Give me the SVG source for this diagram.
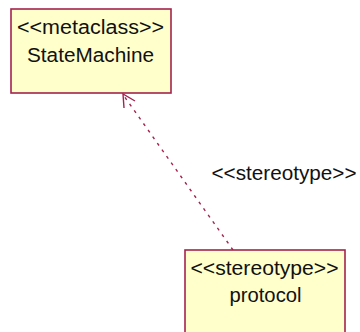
<svg xmlns="http://www.w3.org/2000/svg" width="360" height="332" viewBox="0 0 360 332">
<style>
.box{fill:#FFFFCC;stroke:#A3234E;stroke-width:1.6}
.t{font-family:"Liberation Sans",Arial,sans-serif;font-size:20px;fill:#111;text-anchor:middle}
.edge{fill:none;stroke:#A3234E;stroke-width:1.4}
</style>
<rect width="360" height="332" fill="#ffffff"/>
<g id="connectors">
<line class="edge" x1="233" y1="250" x2="124" y2="96" stroke-dasharray="3,5"/>
<polyline class="edge" points="124,108 123,94 135,101"/>
<text class="t" x="284" y="180" textLength="145" lengthAdjust="spacingAndGlyphs">&lt;&lt;stereotype&gt;&gt;</text>
</g>
<g id="StateMachine">
<rect class="box" x="11" y="9" width="160" height="84"/>
<text class="t" x="90.5" y="34" textLength="147" lengthAdjust="spacingAndGlyphs">&lt;&lt;metaclass&gt;&gt;</text>
<text class="t" x="90.5" y="62" textLength="127" lengthAdjust="spacingAndGlyphs">StateMachine</text>
</g>
<g id="protocol">
<rect class="box" x="185" y="250" width="160" height="86"/>
<text class="t" x="264.5" y="275" textLength="148" lengthAdjust="spacingAndGlyphs">&lt;&lt;stereotype&gt;&gt;</text>
<text class="t" x="265.5" y="302" textLength="72" lengthAdjust="spacingAndGlyphs">protocol</text>
</g>
</svg>
